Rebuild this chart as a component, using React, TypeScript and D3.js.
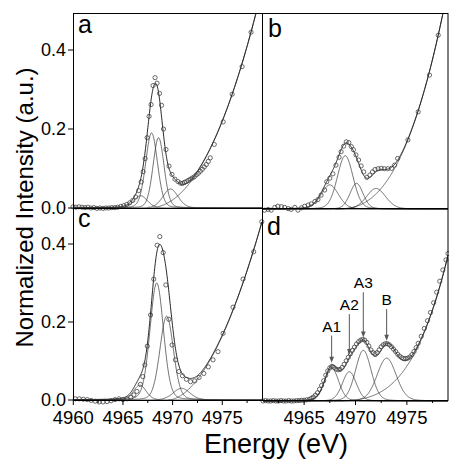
import React from 'react';
import * as d3 from 'd3';

type Pt = [number, number];
type Peak = [number, number, number]; // [centre eV, height, FWHM eV]
type Edge = { onset: number; refE: number; refI: number; power: number };

// ---------- data ----------
const pointsA: Pt[] = [
  [4960.0, 0.003], [4960.3, 0.002], [4960.6, 0.003], [4960.9, 0.002], [4961.2, 0.001], [4961.5, 0.002],
  [4961.8, 0.0], [4962.1, 0.001], [4962.4, -0.001], [4962.7, 0.0], [4963.0, -0.001], [4963.3, 0.0],
  [4963.6, 0.0], [4963.9, 0.001], [4964.2, 0.001], [4964.5, 0.002], [4964.8, 0.004], [4965.1, 0.006],
  [4965.4, 0.009], [4965.7, 0.013], [4966.0, 0.019], [4966.3, 0.028], [4966.6, 0.044], [4966.85, 0.066],
  [4967.05, 0.092], [4967.25, 0.125], [4967.45, 0.178], [4967.65, 0.232], [4967.85, 0.262], [4968.05, 0.31],
  [4968.25, 0.33], [4968.45, 0.316], [4968.7, 0.29], [4968.9, 0.26], [4969.1, 0.2], [4969.35, 0.148],
  [4969.65, 0.106], [4969.95, 0.085], [4970.25, 0.073], [4970.55, 0.067], [4970.8, 0.063], [4971.0, 0.062],
  [4971.2, 0.065], [4971.4, 0.067], [4971.6, 0.07], [4971.8, 0.073], [4972.0, 0.076], [4972.2, 0.079],
  [4972.4, 0.084], [4972.6, 0.088], [4972.8, 0.093], [4973.0, 0.098], [4973.2, 0.104], [4973.4, 0.11],
  [4973.6, 0.118], [4973.8, 0.127], [4974.2, 0.161], [4975.1, 0.218], [4976.0, 0.288], [4977.0, 0.358],
  [4977.9, 0.445],
];
const peaksA: Peak[] = [
  [4966.8, 0.031, 1.6],
  [4967.9, 0.19, 1.4],
  [4968.6, 0.178, 1.3],
  [4969.8, 0.048, 1.8],
];
const edgeA: Edge = { onset: 4967.5, refE: 4978, refI: 0.455, power: 2.17 };

const pointsB: Pt[] = [
  [4961.15, -0.003], [4961.5, -0.001], [4961.8, -0.003], [4962.15, 0.004], [4962.45, 0.007], [4962.8, 0.006],
  [4963.1, 0.004], [4963.45, 0.001], [4963.75, -0.001], [4964.1, 0.004], [4964.4, -0.003], [4964.75, 0.003],
  [4965.05, 0.007], [4965.4, 0.01], [4965.7, 0.013], [4966.05, 0.019], [4966.35, 0.024], [4966.65, 0.035],
  [4967.0, 0.048], [4967.2, 0.069], [4967.5, 0.078], [4967.8, 0.089], [4968.1, 0.111], [4968.4, 0.131],
  [4968.6, 0.145], [4968.85, 0.159], [4969.1, 0.17], [4969.35, 0.168], [4969.6, 0.158], [4969.8, 0.15],
  [4970.05, 0.137], [4970.3, 0.124], [4970.55, 0.109], [4970.8, 0.094], [4971.1, 0.08], [4971.4, 0.086],
  [4971.65, 0.094], [4971.9, 0.1], [4972.2, 0.102], [4972.5, 0.103], [4972.8, 0.102], [4973.15, 0.102],
  [4973.5, 0.103], [4973.8, 0.111], [4974.1, 0.128], [4975.1, 0.175], [4976.1, 0.246], [4977.2, 0.339],
  [4978.05, 0.44],
];
const peaksB: Peak[] = [
  [4967.5, 0.061, 2.0],
  [4969.0, 0.135, 1.8],
  [4970.1, 0.065, 1.5],
  [4972.0, 0.052, 2.2],
];
const edgeB: Edge = { onset: 4968, refE: 4978.05, refI: 0.44, power: 2.65 };

const pointsC: Pt[] = [
  [4960.2, 0.003], [4960.6, 0.003], [4961.0, 0.002], [4961.4, 0.001], [4961.8, -0.001], [4962.2, -0.003],
  [4962.6, -0.005], [4963.0, -0.005], [4963.4, -0.004], [4963.8, -0.002], [4964.2, 0.001], [4964.6, 0.003],
  [4965.0, 0.001], [4965.4, 0.003], [4965.8, 0.007], [4966.1, 0.013], [4966.4, 0.022], [4966.75, 0.04],
  [4967.0, 0.06], [4967.2, 0.09], [4967.45, 0.138], [4967.78, 0.218], [4968.1, 0.31], [4968.44, 0.397],
  [4968.71, 0.419], [4969.05, 0.378], [4969.32, 0.295], [4969.62, 0.207], [4969.95, 0.141], [4970.29, 0.103],
  [4970.62, 0.073], [4970.99, 0.062], [4971.39, 0.053], [4971.8, 0.047], [4972.23, 0.049], [4972.67, 0.058],
  [4973.14, 0.068], [4973.6, 0.085], [4974.07, 0.103], [4974.57, 0.124], [4975.08, 0.171], [4976.08, 0.238],
  [4977.09, 0.31], [4978.16, 0.38], [4978.98, 0.457],
];
const peaksC: Peak[] = [
  [4966.7, 0.038, 1.5],
  [4968.4, 0.3, 1.6],
  [4969.4, 0.215, 1.6],
  [4970.9, 0.03, 2.0],
];
const edgeC: Edge = { onset: 4969.5, refE: 4979, refI: 0.457, power: 1.87 };

const pointsD: Pt[] = [
  [4961.0, 0.0], [4961.25, 0.001], [4961.5, 0.0], [4961.75, 0.0], [4962.0, 0.001], [4962.25, 0.0],
  [4962.5, 0.0], [4962.75, 0.001], [4963.0, 0.0], [4963.25, 0.0], [4963.5, 0.001], [4963.75, 0.0],
  [4964.0, 0.0], [4964.25, 0.001], [4964.5, 0.001], [4964.75, 0.002], [4965.0, 0.002], [4965.25, 0.003],
  [4965.5, 0.004], [4965.7, 0.007], [4965.9, 0.01], [4966.1, 0.015], [4966.3, 0.021], [4966.5, 0.03],
  [4966.7, 0.04], [4966.9, 0.052], [4967.1, 0.066], [4967.3, 0.077], [4967.5, 0.085], [4967.7, 0.089],
  [4967.9, 0.086], [4968.1, 0.082], [4968.3, 0.08], [4968.5, 0.081], [4968.7, 0.086], [4968.9, 0.094],
  [4969.1, 0.103], [4969.3, 0.112], [4969.5, 0.121], [4969.7, 0.13], [4969.9, 0.138], [4970.1, 0.146],
  [4970.3, 0.152], [4970.5, 0.156], [4970.7, 0.158], [4970.9, 0.156], [4971.1, 0.15], [4971.3, 0.141],
  [4971.5, 0.131], [4971.7, 0.124], [4971.9, 0.121], [4972.1, 0.124], [4972.3, 0.131], [4972.5, 0.139],
  [4972.7, 0.144], [4972.9, 0.147], [4973.1, 0.147], [4973.3, 0.144], [4973.5, 0.139], [4973.7, 0.133],
  [4973.9, 0.127], [4974.1, 0.12], [4974.3, 0.115], [4974.5, 0.111], [4974.7, 0.109], [4974.9, 0.109],
  [4975.1, 0.11], [4975.3, 0.113], [4975.5, 0.119], [4975.7, 0.127], [4975.9, 0.137], [4976.1, 0.148],
  [4976.4, 0.166], [4976.7, 0.186], [4977.0, 0.206], [4977.3, 0.227], [4977.6, 0.252], [4977.9, 0.279],
  [4978.2, 0.307], [4978.5, 0.336], [4978.8, 0.362], [4979.0, 0.378],
];
const peaksD: Peak[] = [
  [4967.68, 0.085, 1.6],
  [4969.4, 0.075, 1.6],
  [4970.76, 0.13, 1.8],
  [4973.03, 0.11, 2.2],
];
const edgeD: Edge = { onset: 4967, refE: 4979, refI: 0.373, power: 3.52 };

const peakLabelsD = ['A1', 'A2', 'A3', 'B'];
const peakLabelLevelsD = [0.178, 0.233, 0.289, 0.246];

const panelLetters = ['a', 'b', 'c', 'd'];
const domainLeft: [number, number] = [4960, 4979];
const domainRight: [number, number] = [4961, 4979];
const xTicksLeft = [4960, 4965, 4970, 4975];
const xTicksRight = [4965, 4970, 4975];
const xMinorLeft = [4962.5, 4967.5, 4972.5, 4977.5];
const xMinorRight = [4962.5, 4967.5, 4972.5, 4977.5];
const yTicks = [0, 0.2, 0.4];
const yTickLabels = ['0.0', '0.2', '0.4'];

const ETA = 0.15;

// ---------- model helpers ----------
function peakValue(x: number, p: Peak) {
  const [c, h, w] = p;
  const t = (x - c) / w;
  return h * ((1 - ETA) * Math.exp(-4 * Math.LN2 * t * t) + ETA / (1 + 4 * t * t));
}
function edgeValue(x: number, e: Edge) {
  if (x <= e.onset) return 0;
  return e.refI * Math.pow((x - e.onset) / (e.refE - e.onset), e.power);
}
function fitValue(x: number, peaks: Peak[], e: Edge) {
  return peaks.reduce((s, p) => s + peakValue(x, p), 0) + edgeValue(x, e);
}

const FONT = '"Liberation Sans", Arial, Helvetica, sans-serif';

type PanelCfg = {
  id: string;
  letter: string;
  points: Pt[];
  peaks: Peak[];
  edge: Edge;
  xDomain: [number, number];
  xr: [number, number];
  yZero: number;
  ppu: number;
  top: number;
  bottom: number;
  letterPos: [number, number];
  xAxis: boolean;
  yAxis: boolean;
  zeroLine: boolean;
  ticks: number[];
  minor: number[];
};

const L = 73.5, M = 262.5, R = 448, T = 13.5, MY = 208.5, B = 400.5;

const panels: PanelCfg[] = [
  { id: 'a', letter: panelLetters[0], points: pointsA, peaks: peaksA, edge: edgeA, xDomain: domainLeft, xr: [73, 262], yZero: 208, ppu: 395, top: T, bottom: MY, letterPos: [78, 33], xAxis: false, yAxis: true, zeroLine: false, ticks: xTicksLeft, minor: xMinorLeft },
  { id: 'b', letter: panelLetters[1], points: pointsB, peaks: peaksB, edge: edgeB, xDomain: domainRight, xr: [263, 448], yZero: 209, ppu: 395, top: T, bottom: MY, letterPos: [268, 36.5], xAxis: false, yAxis: false, zeroLine: true, ticks: xTicksRight, minor: xMinorRight },
  { id: 'c', letter: panelLetters[2], points: pointsC, peaks: peaksC, edge: edgeC, xDomain: domainLeft, xr: [73.3, 262], yZero: 400, ppu: 390, top: MY, bottom: B, letterPos: [78, 227], xAxis: true, yAxis: true, zeroLine: false, ticks: xTicksLeft, minor: xMinorLeft },
  { id: 'd', letter: panelLetters[3], points: pointsD, peaks: peaksD, edge: edgeD, xDomain: domainRight, xr: [263, 448], yZero: 401, ppu: 390, top: MY, bottom: B, letterPos: [267, 235], xAxis: true, yAxis: false, zeroLine: true, ticks: xTicksRight, minor: xMinorRight },
];

function Panel({ cfg }: { cfg: PanelCfg }) {
  const x = d3.scaleLinear().domain(cfg.xDomain).range(cfg.xr);
  const y = d3.scaleLinear().domain([0, 0.4]).range([cfg.yZero, cfg.yZero - 0.4 * cfg.ppu]);
  const xs = d3.range(cfg.xDomain[0], cfg.xDomain[1] + 0.001, 0.03);
  const line = d3.line<Pt>().x((d) => x(d[0])).y((d) => y(d[1]));
  const pl = cfg.xr[0], pr = cfg.xr[1];

  const fitPts: Pt[] = xs.map((e) => [e, fitValue(e, cfg.peaks, cfg.edge)]);
  const edgePts: Pt[] = xs.filter((e) => e >= cfg.edge.onset).map((e) => [e, edgeValue(e, cfg.edge)]);

  return (
    <g>
      <defs>
        <clipPath id={`clip-${cfg.id}`}>
          <rect x={pl} y={cfg.top} width={pr - pl} height={cfg.bottom - cfg.top + 2} />
        </clipPath>
      </defs>
      {cfg.zeroLine && (
        <line x1={pl} x2={pr} y1={y(0)} y2={y(0)} stroke="#808080" strokeWidth={1.6} />
      )}
      <g clipPath={`url(#clip-${cfg.id})`} fill="none">
        {cfg.peaks.map((p, i) => (
          <path key={i} d={line(xs.map((e) => [e, peakValue(e, p)] as Pt)) || ''} stroke="#333" strokeWidth={0.7} />
        ))}
        <path d={line(edgePts) || ''} stroke="#333" strokeWidth={0.7} />
        <path d={line(fitPts) || ''} stroke="#111" strokeWidth={0.9} />
      </g>
      <g fill="none" stroke="#3a3a3a" strokeWidth={0.75}>
        {cfg.points.map((p, i) => (
          <circle key={i} cx={x(p[0])} cy={y(p[1])} r={2.1} />
        ))}
      </g>
      {cfg.yAxis && (
        <g>
          {yTicks.map((t, i) => (
            <g key={i}>
              <line x1={68} x2={73.5} y1={y(t)} y2={y(t)} stroke="#000" strokeWidth={1} />
              <text x={66} y={y(t)} dy="0.36em" textAnchor="end" fontSize={18} fontFamily={FONT} fill="#000">
                {yTickLabels[i]}
              </text>
            </g>
          ))}
        </g>
      )}
      {cfg.xAxis && (
        <g>
          {cfg.ticks.map((t) => (
            <g key={t}>
              <line x1={x(t)} x2={x(t)} y1={400} y2={405} stroke="#000" strokeWidth={1} />
              <text x={x(t)} y={424} textAnchor="middle" fontSize={18.5} fontFamily={FONT} fill="#000">
                {t}
              </text>
            </g>
          ))}
          {cfg.minor.map((t) => (
            <line key={t} x1={x(t)} x2={x(t)} y1={400} y2={403} stroke="#000" strokeWidth={1} />
          ))}
        </g>
      )}
      <text x={cfg.letterPos[0]} y={cfg.letterPos[1]} fontSize={25} fontFamily={FONT} fill="#000">
        {cfg.letter}
      </text>
      {cfg.id === 'd' &&
        cfg.peaks.map((p, i) => {
          const e = p[0];
          const px = x(e);
          const yLabel = y(peakLabelLevelsD[i]);
          const yTip = y(fitValue(e, cfg.peaks, cfg.edge)) - 2.5;
          const yStart = yLabel + 4;
          return (
            <g key={i}>
              <line x1={px} x2={px} y1={yStart} y2={yTip - 5} stroke="#555" strokeWidth={1} />
              <path d={`M${px - 2.3},${yTip - 6} L${px + 2.3},${yTip - 6} L${px},${yTip} Z`} fill="#555" />
              <text x={px} y={yLabel} textAnchor="middle" fontSize={15.5} fontFamily={FONT} fill="#000">
                {peakLabelsD[i]}
              </text>
            </g>
          );
        })}
    </g>
  );
}

export default function App() {
  return (
    <svg
      width={449}
      height={460}
      viewBox="0 0 449 460"
      style={{ position: 'absolute', left: 0, top: 0, background: '#fff' }}
    >
      <rect x={0} y={0} width={449} height={460} fill="#fff" />
      {panels.map((p) => (
        <Panel key={p.id} cfg={p} />
      ))}
      {/* frame */}
      <g stroke="#000" strokeWidth={1} fill="none">
        <rect x={L} y={T} width={R - L} height={B - T} />
        <line x1={M} x2={M} y1={T} y2={B} />
        <line x1={L} x2={R} y1={MY} y2={MY} />
      </g>
      <text
        transform="translate(33,207.5) rotate(-90)"
        textAnchor="middle"
        fontSize={24}
        fontFamily={FONT}
        fill="#000"
      >
        Normalized Intensity (a.u.)
      </text>
      <text x={276} y={453} textAnchor="middle" fontSize={27} fontFamily={FONT} fill="#000">
        Energy (eV)
      </text>
    </svg>
  );
}
